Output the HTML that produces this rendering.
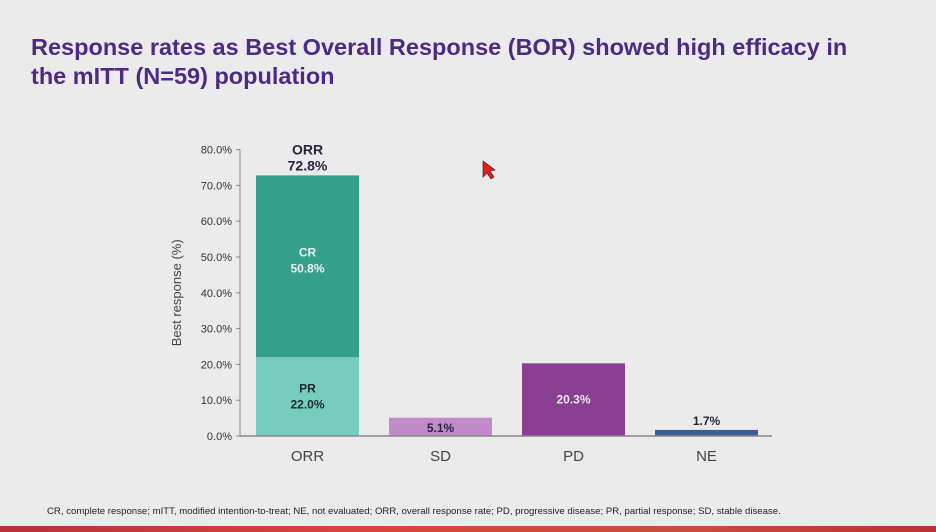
<!DOCTYPE html>
<html><head><meta charset="utf-8"><style>
html,body{margin:0;padding:0;}
body{width:936px;height:532px;background:#ebebeb;font-family:"Liberation Sans",Arial,sans-serif;position:relative;overflow:hidden;}
#title{position:absolute;left:31px;top:33px;font-size:23.5px;font-weight:bold;color:#4e2a86;line-height:29px;margin:0;white-space:nowrap;}
#foot{position:absolute;left:47px;top:506px;font-size:9.6px;color:#222;white-space:nowrap;}
#redbar{position:absolute;left:0;top:526px;width:936px;height:6px;background:linear-gradient(90deg,#b8323a,#d9453e 40%,#c8503f 70%,#b33);}
svg{position:absolute;left:0;top:0;}
</style></head><body>
<h1 id="title">Response rates as Best Overall Response (BOR) showed high efficacy in<br>the mITT (N=59) population</h1>
<svg id="chart" width="936" height="532"></svg>
<div id="foot">CR, complete response; mITT, modified intention-to-treat; NE, not evaluated; ORR, overall response rate; PD, progressive disease; PR, partial response; SD, stable disease.</div>
<div id="redbar"></div>
<script>
const categories=["ORR","SD","PD","NE"];
const prValue=[22.0];
const crValue=[50.8];
const singleValues=[null,5.1,20.3,1.7];
const singleColors=[null,"#c18ac9","#8b3f92","#3b5f95"];
const yTicks=[0,10,20,30,40,50,60,70,80];
const NS="http://www.w3.org/2000/svg";
const svg=document.getElementById('chart');
const y0=436, pxPer=3.58, axX=240, axEnd=772, slot0=256, slotW=133, barW=103;
function y(v){return y0-v*pxPer;}
function x(i){return slot0+i*slotW;}
function mk(t,a,p){const e=document.createElementNS(NS,t);for(const k in a)e.setAttribute(k,a[k]);(p||svg).appendChild(e);return e;}
function txt(s,a){const e=mk('text',a);e.textContent=s;return e;}
yTicks.forEach(t=>{
 const tk=mk('line',{x1:axX-4,x2:axX,y1:y(t),y2:y(t),stroke:'#888'});
 
 
 const l=txt(t.toFixed(1)+'%',{x:axX-8,y:y(t)+4,'text-anchor':'end','font-size':11,fill:'#333'});
 
 
});
const ay=mk('line',{x1:axX,x2:axX,y1:y(80),y2:y0,stroke:'#888'});


const yt=txt('Best response (%)',{x:0,y:0,transform:`translate(181,${y(40)}) rotate(-90)`,'text-anchor':'middle','font-size':13,fill:'#444'});


const pr=mk('rect',{x:x(0),y:y(prValue[0]),width:barW,height:y0-y(prValue[0]),fill:'#76cdbd'});


const cr=mk('rect',{x:x(0),y:y(prValue[0]+crValue[0]),width:barW,height:y(prValue[0])-y(prValue[0]+crValue[0]),fill:'#35a08a'});


const cx0=x(0)+barW/2;
const prm=(y(prValue[0])+y0)/2;
let e=txt('PR',{x:cx0,y:prm-4,'text-anchor':'middle','font-size':12,'font-weight':'bold',fill:'#1c2a2a'});

e=txt(prValue[0].toFixed(1)+'%',{x:cx0,y:prm+12,'text-anchor':'middle','font-size':12,'font-weight':'bold',fill:'#1c2a2a'});

const crm=(y(prValue[0])+y(prValue[0]+crValue[0]))/2;
e=txt('CR',{x:cx0,y:crm-10,'text-anchor':'middle','font-size':12,'font-weight':'bold',fill:'#e8f5f2'});

e=txt(crValue[0].toFixed(1)+'%',{x:cx0,y:crm+6,'text-anchor':'middle','font-size':12,'font-weight':'bold',fill:'#e8f5f2'});

const tot=prValue[0]+crValue[0];
e=txt('ORR',{x:cx0,y:y(tot)-21,'text-anchor':'middle','font-size':14,'font-weight':'bold',fill:'#2a2340'});

e=txt(tot.toFixed(1)+'%',{x:cx0,y:y(tot)-5,'text-anchor':'middle','font-size':14,'font-weight':'bold',fill:'#2a2340'});

singleValues.forEach((v,i)=>{
 if(v===null)return;
 const r=mk('rect',{x:x(i),y:y(v),width:barW,height:y0-y(v),fill:singleColors[i]});
 
 
 let ty,col;
 if(v>10){ty=(y(v)+y0)/2+4;col='#f3e8f5';}
 else if(v>4){ty=(y(v)+y0)/2+5;col='#2a2340';}
 else{ty=y(v)-5;col='#2a2340';}
 const l=txt(v.toFixed(1)+'%',{x:x(i)+barW/2,y:ty,'text-anchor':'middle','font-size':12,'font-weight':'bold',fill:col});
 
 
});
const ax=mk('line',{x1:axX,x2:axEnd,y1:y0,y2:y0,stroke:'#888','stroke-width':1.5});


categories.forEach((c,i)=>{
 const l=txt(c,{x:x(i)+barW/2,y:y0+25,'text-anchor':'middle','font-size':15,fill:'#444'});
 
 
});
const cur=mk('polygon',{points:'483,161 483,177 487,173 491,179 494,177 490,171 495,170',fill:'#d22',stroke:'#600','stroke-width':0.6});


</script>
</body></html>
